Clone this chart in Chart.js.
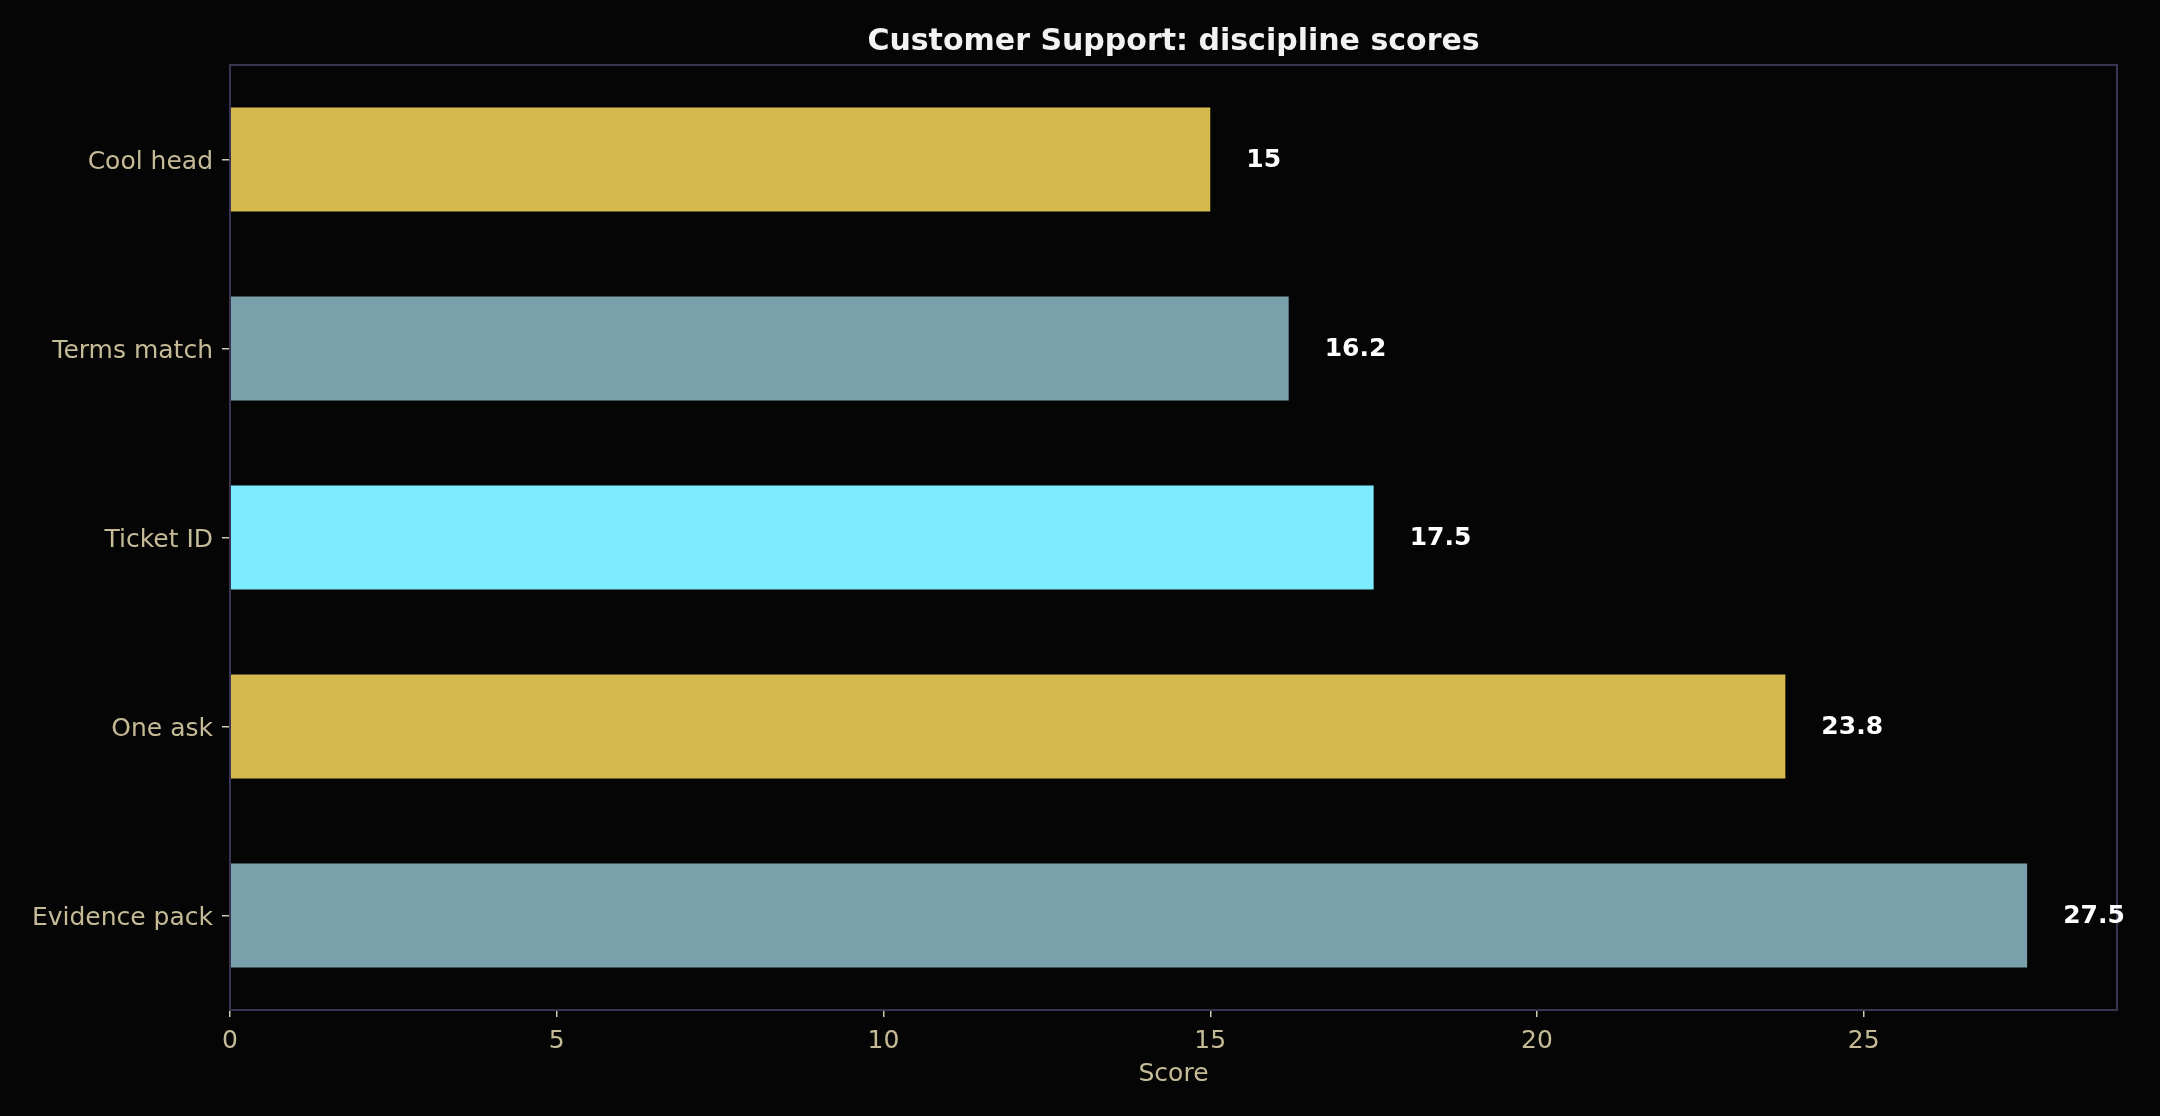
<!DOCTYPE html>
<html>
<head>
<meta charset="utf-8">
<script src="https://cdn.jsdelivr.net/npm/chart.js@4"></script>
<style>
  html, body { margin: 0; padding: 0; background: #050505; }
  canvas { display: block; }
</style>
</head>
<body>
<canvas id="c" width="2160" height="1116"></canvas>
<script>
const categories = ["Cool head", "Terms match", "Ticket ID", "One ask", "Evidence pack"];
const scores = [15, 16.2, 17.5, 23.8, 27.5];
const barColors = ["#d4b94f", "#7aa1ab", "#7eecff", "#d4b94f", "#7aa1ab"];
const xTicks = [0, 5, 10, 15, 20, 25];
const chartTitle = "Customer Support: discipline scores";

const FONT = "'DejaVu Sans', sans-serif";
const TICK_COLOR = "#c6bb97";
const FRAME_COLOR = "#393551";

const framePlugin = {
  id: 'frameAndLabels',
  afterDatasetsDraw(chart) {
    const ctx = chart.ctx;
    const a = chart.chartArea;
    ctx.save();
    ctx.strokeStyle = FRAME_COLOR;
    ctx.lineWidth = 2;
    ctx.strokeRect(a.left, a.top, a.right - a.left, a.bottom - a.top);
    // title centred over the plot area
    ctx.fillStyle = "#f2f2f2";
    ctx.font = "bold 30px " + FONT;
    ctx.textAlign = "center";
    ctx.textBaseline = "middle";
    ctx.fillText(chartTitle, (a.left + a.right) / 2, 42);
    // value labels
    const meta = chart.getDatasetMeta(0);
    const xs = chart.scales.x;
    ctx.fillStyle = "#ffffff";
    ctx.font = "bold 25px " + FONT;
    ctx.textAlign = "left";
    ctx.textBaseline = "middle";
    meta.data.forEach((bar, i) => {
      const v = scores[i];
      ctx.fillText(String(v), xs.getPixelForValue(v) + 36, bar.y + 1);
    });
    ctx.restore();
  }
};

new Chart(document.getElementById('c'), {
  type: 'bar',
  data: {
    labels: categories,
    datasets: [{
      data: scores,
      backgroundColor: barColors,
      borderWidth: 0,
      barPercentage: 0.55,
      categoryPercentage: 1.0
    }]
  },
  options: {
    indexAxis: 'y',
    responsive: false,
    devicePixelRatio: 1,
    animation: false,
    layout: { padding: { left: 0, right: 43, top: 65, bottom: 0 } },
    plugins: {
      legend: { display: false },
      tooltip: { enabled: false },
      title: { display: false }
    },
    scales: {
      x: {
        type: 'linear',
        min: 0,
        max: 28.875,
        afterBuildTicks(scale) { scale.ticks = xTicks.map(v => ({ value: v })); },
        afterFit(scale) { scale.height = 106; },
        border: { display: false },
        grid: { display: true, drawOnChartArea: false, drawTicks: true, tickLength: 7, color: "#d0c9b0", lineWidth: 1.5 },
        ticks: { color: TICK_COLOR, font: { family: FONT, size: 25 }, padding: 9 },
        title: {
          display: true,
          text: "Score",
          color: TICK_COLOR,
          font: { family: FONT, size: 25 },
          padding: { top: 0, bottom: 27 }
        }
      },
      y: {
        afterFit(scale) { scale.width = 230; },
        border: { display: false },
        grid: { display: true, drawOnChartArea: false, drawTicks: true, tickLength: 8, color: "#d0c9b0", lineWidth: 1.5, offset: false },
        ticks: { color: TICK_COLOR, font: { family: FONT, size: 25 }, padding: 9, labelOffset: 3 }
      }
    }
  },
  plugins: [framePlugin]
});
</script>
</body>
</html>
